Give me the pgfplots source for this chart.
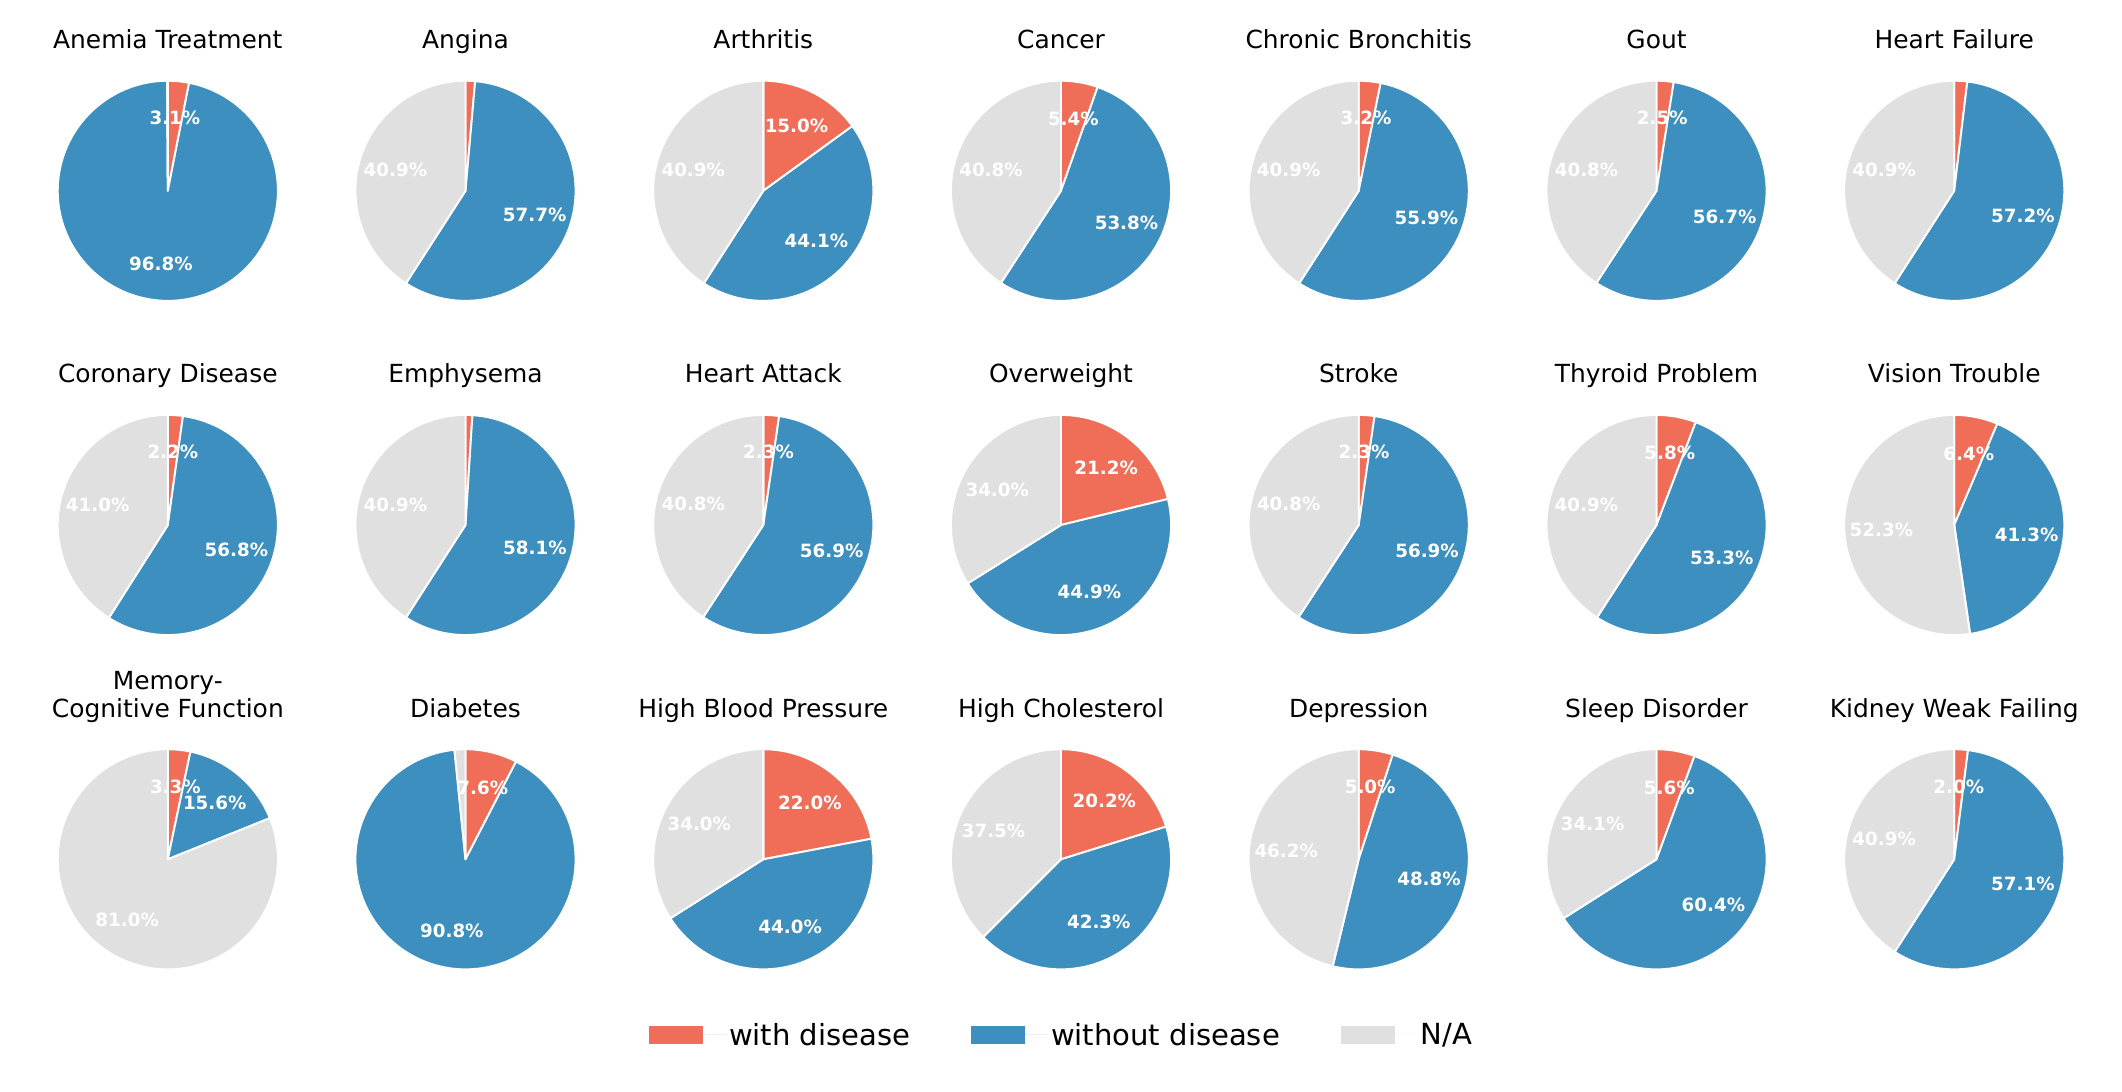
\documentclass[border=0pt]{standalone}
\usepackage{fontspec}
\setmainfont{DejaVu Sans}
\usepackage{pgfplots}
\pgfplotsset{compat=1.18}
\definecolor{cwith}{RGB}{240,110,88}
\definecolor{cwithout}{RGB}{60,143,190}
\definecolor{cna}{RGB}{224,224,224}
\tikzset{
  labstyle/.style={text=white, font=\bfseries\fontsize{13.2pt}{15pt}\selectfont, inner sep=0pt, anchor=center},
  titlestyle/.style={text=black, font=\fontsize{18pt}{21pt}\selectfont, inner sep=0pt, anchor=base},
  wedge/.style={fill=#1, draw=white, line width=1.4pt, line join=round}
}
% #1 x centre, #2 y centre, #3 percentage, #4 printed value
\newcommand{\lab}[4]{%
  \ifdim #4pt>1.95pt
    \path (axis cs:#1,#2) ++({90-3.6*(#3)}:0.73in) node[labstyle]{#4\%};
  \fi}
% #1 x centre, #2 y centre, #3 with, #4 without, #5 N/A, #6 title
\newcommand{\pie}[6]{%
  \fill[wedge=cwith] (axis cs:#1,#2) -- ++(90:1.1in) arc[start angle=90, end angle={90-3.6*(#3)}, radius=1.1in] -- cycle;
  \fill[wedge=cwithout] (axis cs:#1,#2) -- ++({90-3.6*(#3)}:1.1in) arc[start angle={90-3.6*(#3)}, end angle={90-3.6*(#3+#4)}, radius=1.1in] -- cycle;
  \fill[wedge=cna] (axis cs:#1,#2) -- ++({90-3.6*(#3+#4)}:1.1in) arc[start angle={90-3.6*(#3+#4)}, end angle=-270, radius=1.1in] -- cycle;
  \lab{#1}{#2}{#3/2}{#3}%
  \lab{#1}{#2}{#3+#4/2}{#4}%
  \lab{#1}{#2}{#3+#4+#5/2}{#5}%
  \node[titlestyle, yshift=1.42in] at (axis cs:#1,#2) {#6};
}
\begin{document}
\begin{tikzpicture}
\begin{axis}[
  x=0.01in, y=0.01in,
  xmin=0, xmax=2122, ymin=0, ymax=1092,
  hide axis, clip=false, scale only axis,
  legend columns=3,
  legend image code/.code={\fill[#1] (0in,-0.09in) rectangle (0.54in,0.09in);
     \path (0.54in,0in) -- (0.77in,0in);},
  legend style={at={(axis cs:1062,57)}, anchor=center, draw=none, fill=none,
    font=\fontsize{21pt}{25pt}\selectfont,
    /tikz/every even column/.append style={column sep=0.58in}},
]
\path (axis cs:0,0) rectangle (axis cs:2122,1092);
\addlegendimage{fill=cwith, draw=none}
\addlegendentry{with disease}
\addlegendimage{fill=cwithout, draw=none}
\addlegendentry{without disease}
\addlegendimage{fill=cna, draw=none}
\addlegendentry{N/A}
% row 1
\pie{167.8}{901.2}{3.1}{96.8}{0.1}{Anemia Treatment}
\pie{465.5}{901.2}{1.4}{57.7}{40.9}{Angina}
\pie{763.3}{901.2}{15.0}{44.1}{40.9}{Arthritis}
\pie{1061.0}{901.2}{5.4}{53.8}{40.8}{Cancer}
\pie{1358.7}{901.2}{3.2}{55.9}{40.9}{Chronic Bronchitis}
\pie{1656.5}{901.2}{2.5}{56.7}{40.8}{Gout}
\pie{1954.2}{901.2}{1.9}{57.2}{40.9}{Heart Failure}
% row 2
\pie{167.8}{567.0}{2.2}{56.8}{41.0}{Coronary Disease}
\pie{465.5}{567.0}{1.0}{58.1}{40.9}{Emphysema}
\pie{763.3}{567.0}{2.3}{56.9}{40.8}{Heart Attack}
\pie{1061.0}{567.0}{21.2}{44.9}{34.0}{Overweight}
\pie{1358.7}{567.0}{2.3}{56.9}{40.8}{Stroke}
\pie{1656.5}{567.0}{5.8}{53.3}{40.9}{Thyroid Problem}
\pie{1954.2}{567.0}{6.4}{41.3}{52.3}{Vision Trouble}
% row 3
\pie{167.8}{232.7}{3.3}{15.6}{81.0}{Cognitive Function}
\node[titlestyle, yshift=1.70in] at (axis cs:167.8,232.7) {Memory-};
\pie{465.5}{232.7}{7.6}{90.8}{1.6}{Diabetes}
\pie{763.3}{232.7}{22.0}{44.0}{34.0}{High Blood Pressure}
\pie{1061.0}{232.7}{20.2}{42.3}{37.5}{High Cholesterol}
\pie{1358.7}{232.7}{5.0}{48.8}{46.2}{Depression}
\pie{1656.5}{232.7}{5.6}{60.4}{34.1}{Sleep Disorder}
\pie{1954.2}{232.7}{2.0}{57.1}{40.9}{Kidney Weak Failing}
\end{axis}
\end{tikzpicture}
\end{document}
